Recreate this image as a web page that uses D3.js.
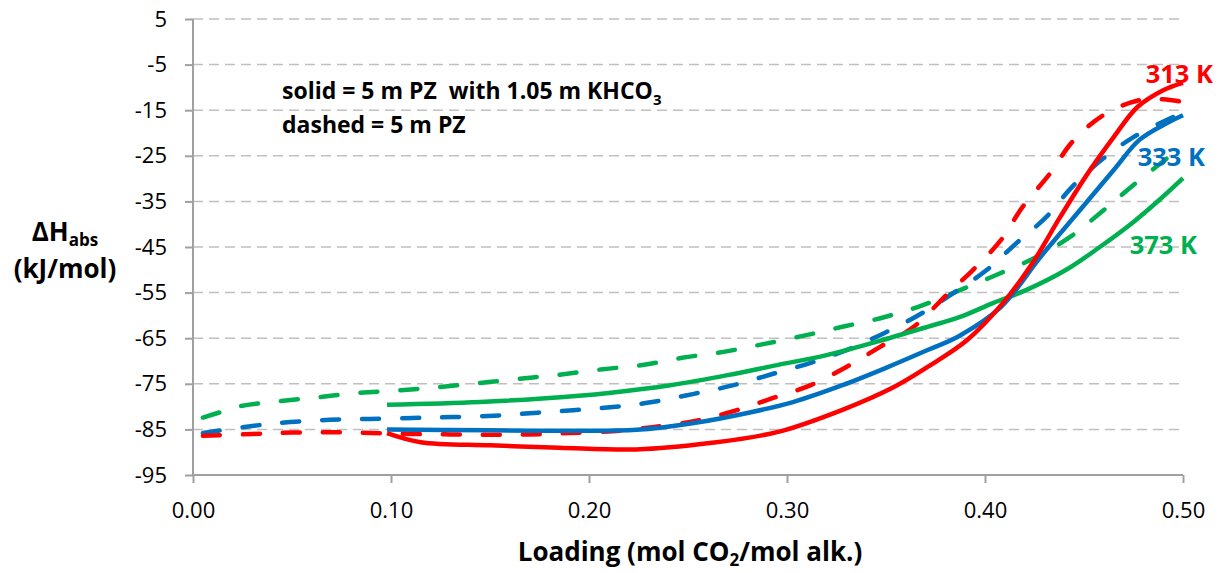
<!DOCTYPE html>
<html><head><meta charset="utf-8">
<script src="https://cdn.jsdelivr.net/npm/d3@7"></script>
<style>
html,body{margin:0;padding:0;background:#fff;}
text{font-family:"Open Sans",sans-serif;white-space:pre;}
</style></head>
<body><svg id="c" width="1219" height="573"></svg>
<script>
// ---- data ----
const xTicks = [0.00, 0.10, 0.20, 0.30, 0.40, 0.50];
const yTicks = [5, -5, -15, -25, -35, -45, -55, -65, -75, -85, -95];

const red313SolidX = [0.098, 0.115, 0.15, 0.185, 0.224, 0.261, 0.295, 0.328, 0.354, 0.371, 0.391, 0.409, 0.424, 0.438, 0.452, 0.465, 0.477, 0.49, 0.5];
const red313SolidY = [-85.8, -87.8, -88.5, -89.0, -89.4, -88.0, -85.6, -80.7, -75.7, -71.3, -65.4, -57.3, -48.5, -38.4, -28.8, -20.9, -14.3, -10.6, -9.0];

const red313DashX = [0.005, 0.03, 0.05, 0.07, 0.09, 0.11, 0.13, 0.15, 0.17, 0.19, 0.212, 0.232, 0.253, 0.273, 0.293, 0.312, 0.33, 0.347, 0.364, 0.381, 0.394, 0.408, 0.419, 0.433, 0.444, 0.46, 0.478, 0.49, 0.5];
const red313DashY = [-86.4, -86.0, -85.7, -85.6, -85.8, -86.0, -86.1, -86.2, -86.1, -85.8, -85.4, -84.5, -83.2, -81.0, -78.1, -75.3, -71.3, -66.9, -62.5, -55.3, -50.0, -43.5, -36.2, -28.8, -22.0, -16.0, -12.8, -12.6, -13.2];

const blue333SolidX = [0.098, 0.15, 0.185, 0.224, 0.253, 0.28, 0.303, 0.328, 0.35, 0.371, 0.387, 0.408, 0.428, 0.448, 0.465, 0.478, 0.492, 0.5];
const blue333SolidY = [-85.0, -85.2, -85.3, -85.1, -83.6, -81.4, -79.0, -75.3, -71.5, -67.6, -64.5, -58.2, -47.2, -36.9, -28.1, -21.5, -17.8, -16.1];

const blue333DashX = [0.005, 0.029, 0.049, 0.069, 0.089, 0.111, 0.131, 0.152, 0.172, 0.192, 0.212, 0.232, 0.253, 0.273, 0.293, 0.312, 0.33, 0.349, 0.367, 0.384, 0.401, 0.416, 0.431, 0.444, 0.46, 0.475, 0.492, 0.5];
const blue333DashY = [-85.8, -84.3, -83.4, -82.9, -82.7, -82.5, -82.3, -82.0, -81.4, -80.8, -80.1, -79.0, -77.2, -75.3, -72.8, -70.4, -67.6, -63.9, -59.8, -55.1, -50.0, -44.1, -38.4, -31.8, -25.5, -20.9, -17.1, -15.6];

const green373SolidX = [0.098, 0.145, 0.195, 0.21, 0.241, 0.27, 0.295, 0.32, 0.345, 0.371, 0.387, 0.404, 0.421, 0.441, 0.458, 0.475, 0.488, 0.5];
const green373SolidY = [-79.6, -79.0, -77.6, -77.0, -75.3, -73.1, -70.9, -68.7, -65.8, -62.5, -60.4, -57.3, -54.4, -50.0, -45.0, -39.5, -34.7, -29.9];

const green373DashX = [0.005, 0.014, 0.024, 0.044, 0.064, 0.084, 0.105, 0.125, 0.145, 0.165, 0.185, 0.207, 0.227, 0.247, 0.268, 0.288, 0.308, 0.328, 0.349, 0.369, 0.391, 0.408, 0.426, 0.443, 0.46, 0.475, 0.495];
const green373DashY = [-82.4, -81.2, -79.9, -78.8, -77.9, -77.0, -76.4, -75.7, -74.8, -73.9, -73.0, -71.8, -70.9, -69.3, -68.0, -66.3, -64.5, -62.5, -60.4, -57.7, -53.8, -50.7, -47.2, -42.8, -36.9, -31.4, -24.5];

const seriesLabels = ["313 K", "333 K", "373 K"];
const colors = {red: "#FF0000", blue: "#0070C0", green: "#00B050"};

// ---- chart ----
const svg = d3.select("#c");
const x = d3.scaleLinear().domain([0, 0.5]).range([193, 1183]);
const y = d3.scaleLinear().domain([-95, 5]).range([475, 19]);

// gridlines
svg.append("g").selectAll("line").data(yTicks.filter(d => d !== -95)).join("line")
  .attr("x1", x(0)).attr("x2", x(0.5)).attr("y1", d => y(d)).attr("y2", d => y(d))
  .attr("stroke", "#C0C0C0").attr("stroke-width", 1.5).attr("stroke-dasharray", "10,6");

// y axis
const yAxis = svg.append("g").attr("transform", `translate(${x(0)},0)`)
  .call(d3.axisLeft(y).tickValues(yTicks).tickFormat(d => String(d)).tickSize(8).tickPadding(18));
// x axis
const xAxis = svg.append("g").attr("transform", `translate(0,${y(-95)})`)
  .call(d3.axisBottom(x).tickValues(xTicks).tickFormat(d3.format(".2f")).tickSize(8).tickPadding(19));
[yAxis, xAxis].forEach(g => {
  g.select(".domain").attr("stroke", "#A0A0A0").attr("stroke-width", 2);
  g.selectAll(".tick line").attr("stroke", "#A0A0A0").attr("stroke-width", 2);
  g.selectAll(".tick text").attr("font-size", 22).attr("fill", "#000")
    .style("font-family", "'Open Sans',sans-serif");
});
xAxis.select(".domain").attr("d", `M${x(0)},0H${x(0.5)}`);
yAxis.select(".domain").attr("d", `M0,${y(5)}V${y(-95)}`);

// lines
const line = d3.line().x(d => x(d[0])).y(d => y(d[1])).curve(d3.curveCatmullRom.alpha(0.5));
const series = [
  {xs: green373DashX, ys: green373DashY, c: colors.green, dash: true},
  {xs: blue333DashX, ys: blue333DashY, c: colors.blue, dash: true},
  {xs: red313DashX, ys: red313DashY, c: colors.red, dash: true},
  {xs: green373SolidX, ys: green373SolidY, c: colors.green, dash: false},
  {xs: blue333SolidX, ys: blue333SolidY, c: colors.blue, dash: false},
  {xs: red313SolidX, ys: red313SolidY, c: colors.red, dash: false},
];
svg.append("g").selectAll("path").data(series).join("path")
  .attr("d", s => line(s.xs.map((v, i) => [v, s.ys[i]])))
  .attr("fill", "none").attr("stroke", s => s.c).attr("stroke-width", 4.5)
  .attr("stroke-linecap", s => s.dash ? "round" : "butt")
  .attr("stroke-linejoin", "round")
  .attr("stroke-dasharray", s => s.dash ? "17,23" : null);

// series labels
const lab = svg.append("g").attr("font-size", 25.5).attr("font-weight", "bold");
lab.append("text").attr("x", 1213).attr("y", 83).attr("text-anchor", "end").attr("fill", colors.red).text(seriesLabels[0]);
lab.append("text").attr("x", 1205).attr("y", 166).attr("text-anchor", "end").attr("fill", colors.blue).text(seriesLabels[1]);
lab.append("text").attr("x", 1197).attr("y", 254).attr("text-anchor", "end").attr("fill", colors.green).text(seriesLabels[2]);

// annotation
const ann = svg.append("g").attr("font-size", 23).attr("font-weight", "bold").attr("fill", "#000");
const t1 = ann.append("text").attr("x", 282).attr("y", 99);
t1.append("tspan").text("solid = 5 m PZ  with 1.05 m KHCO");
t1.append("tspan").attr("font-size", 15).attr("dy", 6).text("3");
ann.append("text").attr("x", 282).attr("y", 133).text("dashed = 5 m PZ");

// y axis title
const yt = svg.append("g").attr("font-size", 26).attr("font-weight", "bold").attr("fill", "#000").attr("text-anchor", "middle");
const yt1 = yt.append("text").attr("x", 65).attr("y", 241);
yt1.append("tspan").text("ΔH");
yt1.append("tspan").attr("font-size", 17).attr("dy", 5).text("abs");
yt.append("text").attr("x", 65).attr("y", 278).text("(kJ/mol)");

// x axis title
const xt = svg.append("text").attr("x", 690).attr("y", 561).attr("text-anchor", "middle")
  .attr("font-size", 26).attr("font-weight", "bold").attr("fill", "#000");
xt.append("tspan").text("Loading (mol CO");
xt.append("tspan").attr("font-size", 17).attr("dy", 5).text("2");
xt.append("tspan").attr("dy", -5).text("/mol alk.)");
</script></body></html>
